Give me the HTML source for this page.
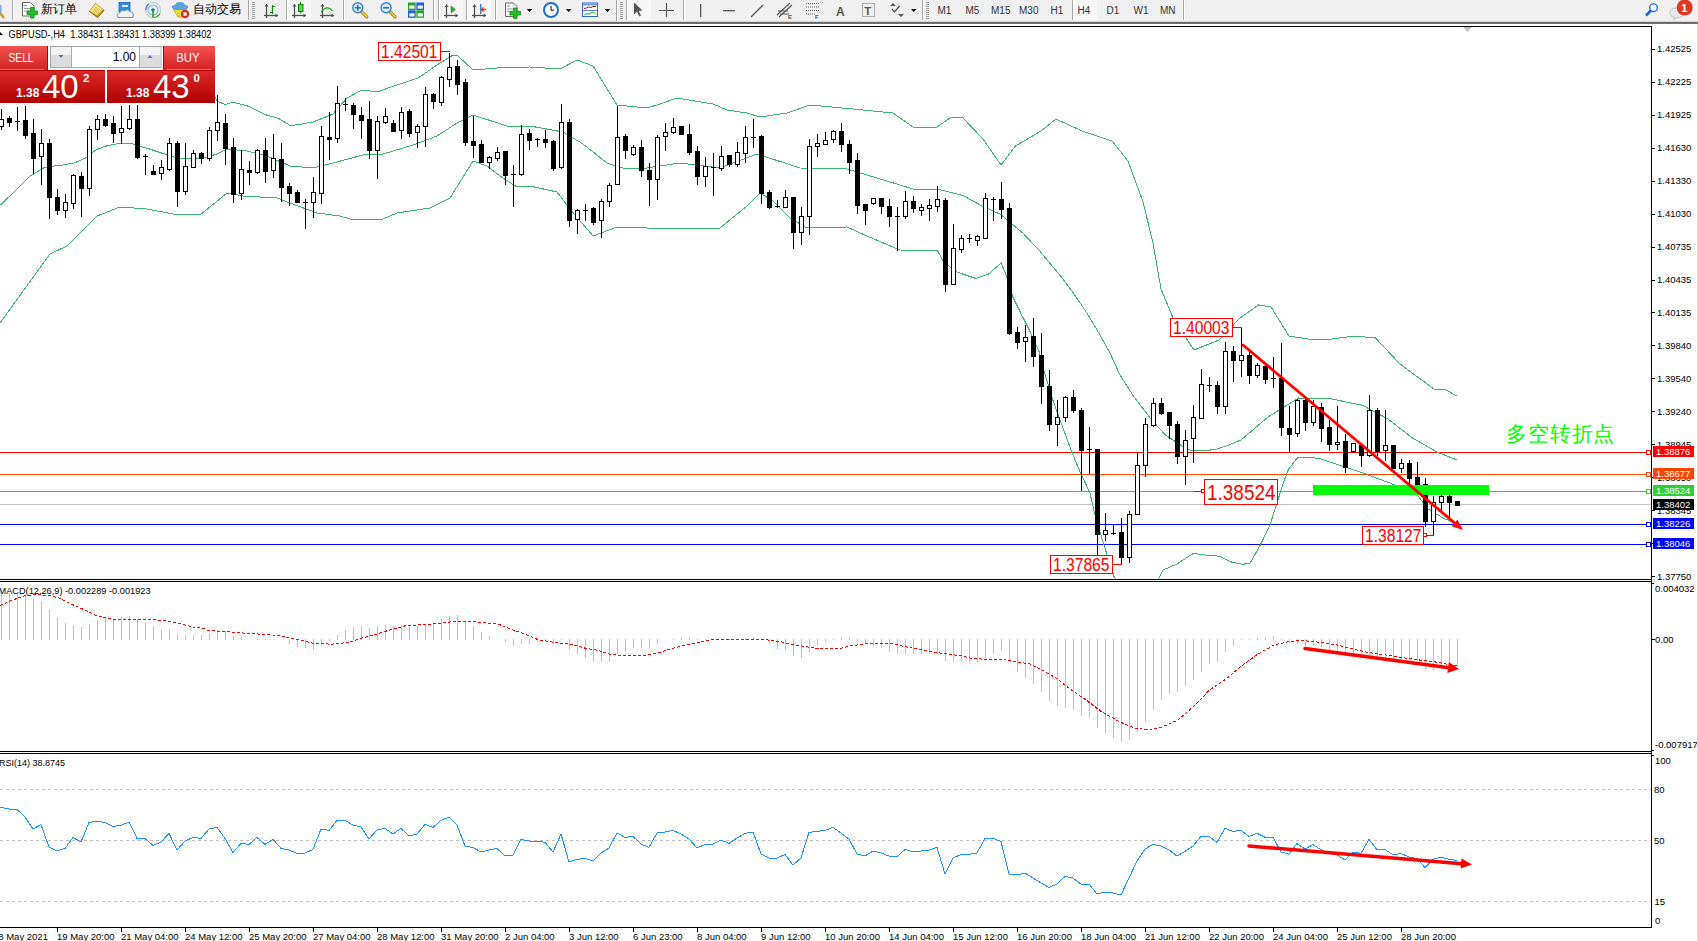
<!DOCTYPE html><html><head><meta charset="utf-8"><title>GBPUSD H4</title><style>
html,body{margin:0;padding:0;width:1698px;height:941px;overflow:hidden;background:#fff;}
svg{position:absolute;left:0;top:0;font-family:"Liberation Sans",sans-serif;}
</style></head><body>
<svg width="1698" height="941" viewBox="0 0 1698 941">
<defs>
<clipPath id="cmain"><rect x="0" y="27" width="1651" height="552"/></clipPath>
<clipPath id="cmacd"><rect x="0" y="582" width="1651" height="169"/></clipPath>
<clipPath id="crsi"><rect x="0" y="754" width="1651" height="173"/></clipPath>
<linearGradient id="gred" x1="0" y1="0" x2="0" y2="1"><stop offset="0" stop-color="#f25252"/><stop offset="1" stop-color="#d42222"/></linearGradient>
<linearGradient id="gred2" x1="0" y1="0" x2="0" y2="1"><stop offset="0" stop-color="#dc2a2a"/><stop offset="1" stop-color="#b00000"/></linearGradient>
<linearGradient id="gbtn" x1="0" y1="0" x2="0" y2="1"><stop offset="0" stop-color="#f4f4f4"/><stop offset="1" stop-color="#d8d8d8"/></linearGradient>
<linearGradient id="gtb" x1="0" y1="0" x2="0" y2="1"><stop offset="0" stop-color="#d0d0d0"/><stop offset="1" stop-color="#6a6a6a"/></linearGradient>
</defs>
<rect x="0" y="0" width="1698" height="941" fill="#fff"/>
<g clip-path="url(#cmain)" shape-rendering="crispEdges"><rect x="0" y="452" width="1651" height="1" fill="#ff0000"/><rect x="0" y="474" width="1651" height="1" fill="#ff4500"/><rect x="0" y="491" width="1651" height="1" fill="#32cd32"/><rect x="0" y="504" width="1651" height="1" fill="#c0c0c0"/><rect x="0" y="524" width="1651" height="1" fill="#0000ff"/><rect x="0" y="544" width="1651" height="1" fill="#0000ff"/></g>
<g clip-path="url(#cmain)">
<polyline points="0,60 100,60 195,62 217,101 225,104.6 233,102.2 249,106.4 265,114.6 278.5,118.3 290.4,125.7 300.8,124.2 313,122 333,114 347,98 362,90 377,92 397,85 418,78 437,65 453,55 458,56 473,70 497,68 530,67 560,69 577,60 593,66 617,105 647,108 660,104 677,98 713,104 727,110 747,113 760,117 787,113 810,105 853,109 893,113 913,127 937,127 950,118 962,117 983,139 1001,165 1015.5,146 1041,131 1056,119 1082,131 1112,141 1128,161 1143,202 1153,243 1161,289 1173.5,319 1194,350 1219,340 1240,318 1258.5,305 1271,307 1289,336 1308,339 1332,339 1354,336 1375.5,338 1400,364 1419,378 1434,389 1446,390 1457,396" fill="none" stroke="#3cb371" stroke-width="1" shape-rendering="crispEdges" />
<polyline points="0,205.3 14.9,191.2 29.8,176.3 44.6,167.4 52,166.2 62.5,165.1 74.4,162.9 86.3,157.7 95.2,150.3 104.2,146.5 119,143.3 131,143.3 139.9,146.3 148.8,148.8 160,152.5 177,158 200,159 217,154 227,149 247,151 267,156 290,166 313,168 333,163 363,155 383,154 413,145 437,136 457,123 473,115 507,126 530,126 563,132 583,144 607,163 623,168 647,168 660,166 680,163 720,168 757,154 800,168 847,169 887,181 913,189 937,189 963,195.5 982,206 1001,214.6 1012,224 1022.5,232.7 1039.5,250.7 1060.7,276.2 1072,291 1088,314.7 1100,335 1110,353 1120,375 1134,397 1151,419 1165,434.6 1182,446 1190,450 1204,451 1217,449 1229,445 1241,440 1268,417 1298.5,398 1332,399 1363,405.5 1388,419 1412.5,438 1437,452 1457,460" fill="none" stroke="#3cb371" stroke-width="1" shape-rendering="crispEdges" />
<polyline points="0,323 50,254 67,246 97,216 120,207 147,209 173,214 200,215 227,193 243,196 277,198 290,203 317,213 340,216 350,219 383,219 397,213 430,208 450,198 473,161 487,166 503,178 517,187 530,186 557,192 570,209 593,236 617,227 647,228 670,228 720,228 747,206 760,193 773,201 790,218 807,228 847,227 867,236 900,250 937.5,250.7 943.9,262.4 956.6,272 975.7,278.4 988.5,274.1 1001.2,263 1006.6,276.2 1013,297.5 1022.5,316.6 1031,333.6 1039.5,352.7 1043.7,370 1052.4,398.8 1059.2,417.6 1071,450 1081,474 1090,493 1095,515 1103,542 1114,576.5 1130,600 1158,580 1163,570 1177,564 1180,562 1193.4,553.4 1206.8,555.3 1218.7,556.1 1232.1,562.3 1242.5,564.3 1250,563.2 1260.4,544.9 1270,524.8 1276.7,504 1282.7,484.6 1288.6,469 1297.6,457.6 1314,457.9 1320,458.6 1342,466 1363,473 1391,483.5 1416,493 1428,509 1443,518 1457,524" fill="none" stroke="#3cb371" stroke-width="1" shape-rendering="crispEdges" />
</g>
<g clip-path="url(#cmain)" shape-rendering="crispEdges"><rect x="1" y="109" width="1" height="21" fill="#000"/><rect x="-1" y="119" width="5" height="8" fill="#000"/><rect x="0" y="120" width="3" height="6" fill="#fff"/><rect x="9" y="116" width="1" height="11" fill="#000"/><rect x="7" y="118" width="5" height="5" fill="#000"/><rect x="17" y="107" width="1" height="24" fill="#000"/><rect x="15" y="121" width="5" height="1" fill="#000"/><rect x="25" y="106" width="1" height="33" fill="#000"/><rect x="23" y="120" width="5" height="16" fill="#000"/><rect x="33" y="119" width="1" height="55" fill="#000"/><rect x="31" y="133" width="5" height="26" fill="#000"/><rect x="41" y="129" width="1" height="56" fill="#000"/><rect x="39" y="143" width="5" height="14" fill="#000"/><rect x="40" y="144" width="3" height="12" fill="#fff"/><rect x="49" y="139" width="1" height="80" fill="#000"/><rect x="47" y="143" width="5" height="55" fill="#000"/><rect x="57" y="189" width="1" height="26" fill="#000"/><rect x="55" y="197" width="5" height="14" fill="#000"/><rect x="65" y="194" width="1" height="24" fill="#000"/><rect x="63" y="202" width="5" height="9" fill="#000"/><rect x="64" y="203" width="3" height="7" fill="#fff"/><rect x="73" y="174" width="1" height="35" fill="#000"/><rect x="71" y="175" width="5" height="29" fill="#000"/><rect x="72" y="176" width="3" height="27" fill="#fff"/><rect x="81" y="172" width="1" height="45" fill="#000"/><rect x="79" y="176" width="5" height="13" fill="#000"/><rect x="89" y="126" width="1" height="70" fill="#000"/><rect x="87" y="129" width="5" height="60" fill="#000"/><rect x="88" y="130" width="3" height="58" fill="#fff"/><rect x="97" y="115" width="1" height="25" fill="#000"/><rect x="95" y="119" width="5" height="11" fill="#000"/><rect x="96" y="120" width="3" height="9" fill="#fff"/><rect x="105" y="114" width="1" height="13" fill="#000"/><rect x="103" y="119" width="5" height="7" fill="#000"/><rect x="113" y="116" width="1" height="27" fill="#000"/><rect x="111" y="123" width="5" height="11" fill="#000"/><rect x="121" y="106" width="1" height="38" fill="#000"/><rect x="119" y="128" width="5" height="5" fill="#000"/><rect x="120" y="129" width="3" height="3" fill="#fff"/><rect x="129" y="105" width="1" height="25" fill="#000"/><rect x="127" y="119" width="5" height="10" fill="#000"/><rect x="128" y="120" width="3" height="8" fill="#fff"/><rect x="137" y="105" width="1" height="54" fill="#000"/><rect x="135" y="119" width="5" height="39" fill="#000"/><rect x="145" y="154" width="1" height="21" fill="#000"/><rect x="143" y="156" width="5" height="1" fill="#000"/><rect x="153" y="165" width="1" height="10" fill="#000"/><rect x="151" y="171" width="5" height="4" fill="#000"/><rect x="161" y="160" width="1" height="20" fill="#000"/><rect x="159" y="167" width="5" height="7" fill="#000"/><rect x="160" y="168" width="3" height="5" fill="#fff"/><rect x="169" y="138" width="1" height="33" fill="#000"/><rect x="167" y="143" width="5" height="27" fill="#000"/><rect x="168" y="144" width="3" height="25" fill="#fff"/><rect x="177" y="141" width="1" height="66" fill="#000"/><rect x="175" y="143" width="5" height="49" fill="#000"/><rect x="185" y="143" width="1" height="52" fill="#000"/><rect x="183" y="166" width="5" height="26" fill="#000"/><rect x="184" y="167" width="3" height="24" fill="#fff"/><rect x="193" y="150" width="1" height="18" fill="#000"/><rect x="191" y="153" width="5" height="15" fill="#000"/><rect x="192" y="154" width="3" height="13" fill="#fff"/><rect x="201" y="152" width="1" height="12" fill="#000"/><rect x="199" y="153" width="5" height="6" fill="#000"/><rect x="209" y="127" width="1" height="34" fill="#000"/><rect x="207" y="130" width="5" height="29" fill="#000"/><rect x="208" y="131" width="3" height="27" fill="#fff"/><rect x="217" y="95" width="1" height="46" fill="#000"/><rect x="215" y="122" width="5" height="9" fill="#000"/><rect x="216" y="123" width="3" height="7" fill="#fff"/><rect x="225" y="114" width="1" height="51" fill="#000"/><rect x="223" y="123" width="5" height="26" fill="#000"/><rect x="233" y="138" width="1" height="65" fill="#000"/><rect x="231" y="147" width="5" height="48" fill="#000"/><rect x="241" y="150" width="1" height="50" fill="#000"/><rect x="239" y="169" width="5" height="25" fill="#000"/><rect x="240" y="170" width="3" height="23" fill="#fff"/><rect x="249" y="161" width="1" height="24" fill="#000"/><rect x="247" y="170" width="5" height="3" fill="#000"/><rect x="257" y="149" width="1" height="25" fill="#000"/><rect x="255" y="150" width="5" height="23" fill="#000"/><rect x="256" y="151" width="3" height="21" fill="#fff"/><rect x="265" y="138" width="1" height="45" fill="#000"/><rect x="263" y="150" width="5" height="22" fill="#000"/><rect x="273" y="134" width="1" height="44" fill="#000"/><rect x="271" y="158" width="5" height="13" fill="#000"/><rect x="272" y="159" width="3" height="11" fill="#fff"/><rect x="281" y="143" width="1" height="59" fill="#000"/><rect x="279" y="159" width="5" height="29" fill="#000"/><rect x="289" y="183" width="1" height="23" fill="#000"/><rect x="287" y="186" width="5" height="8" fill="#000"/><rect x="297" y="190" width="1" height="13" fill="#000"/><rect x="295" y="192" width="5" height="11" fill="#000"/><rect x="305" y="199" width="1" height="30" fill="#000"/><rect x="303" y="202" width="5" height="1" fill="#000"/><rect x="313" y="177" width="1" height="41" fill="#000"/><rect x="311" y="192" width="5" height="11" fill="#000"/><rect x="312" y="193" width="3" height="9" fill="#fff"/><rect x="321" y="126" width="1" height="78" fill="#000"/><rect x="319" y="136" width="5" height="58" fill="#000"/><rect x="320" y="137" width="3" height="56" fill="#fff"/><rect x="329" y="112" width="1" height="48" fill="#000"/><rect x="327" y="137" width="5" height="3" fill="#000"/><rect x="337" y="86" width="1" height="57" fill="#000"/><rect x="335" y="103" width="5" height="36" fill="#000"/><rect x="336" y="104" width="3" height="34" fill="#fff"/><rect x="345" y="98" width="1" height="13" fill="#000"/><rect x="343" y="104" width="5" height="1" fill="#000"/><rect x="353" y="103" width="1" height="26" fill="#000"/><rect x="351" y="105" width="5" height="10" fill="#000"/><rect x="361" y="107" width="1" height="32" fill="#000"/><rect x="359" y="115" width="5" height="6" fill="#000"/><rect x="369" y="101" width="1" height="58" fill="#000"/><rect x="367" y="119" width="5" height="32" fill="#000"/><rect x="377" y="116" width="1" height="63" fill="#000"/><rect x="375" y="121" width="5" height="30" fill="#000"/><rect x="376" y="122" width="3" height="28" fill="#fff"/><rect x="385" y="108" width="1" height="16" fill="#000"/><rect x="383" y="116" width="5" height="7" fill="#000"/><rect x="384" y="117" width="3" height="5" fill="#fff"/><rect x="393" y="120" width="1" height="12" fill="#000"/><rect x="391" y="123" width="5" height="9" fill="#000"/><rect x="401" y="107" width="1" height="32" fill="#000"/><rect x="399" y="112" width="5" height="19" fill="#000"/><rect x="400" y="113" width="3" height="17" fill="#fff"/><rect x="409" y="109" width="1" height="28" fill="#000"/><rect x="407" y="111" width="5" height="23" fill="#000"/><rect x="417" y="124" width="1" height="24" fill="#000"/><rect x="415" y="126" width="5" height="7" fill="#000"/><rect x="416" y="127" width="3" height="5" fill="#fff"/><rect x="425" y="87" width="1" height="60" fill="#000"/><rect x="423" y="94" width="5" height="33" fill="#000"/><rect x="424" y="95" width="3" height="31" fill="#fff"/><rect x="433" y="93" width="1" height="16" fill="#000"/><rect x="431" y="94" width="5" height="8" fill="#000"/><rect x="441" y="76" width="1" height="30" fill="#000"/><rect x="439" y="77" width="5" height="26" fill="#000"/><rect x="440" y="78" width="3" height="24" fill="#fff"/><rect x="449" y="53" width="1" height="34" fill="#000"/><rect x="447" y="67" width="5" height="13" fill="#000"/><rect x="448" y="68" width="3" height="11" fill="#fff"/><rect x="457" y="60" width="1" height="35" fill="#000"/><rect x="455" y="66" width="5" height="19" fill="#000"/><rect x="465" y="79" width="1" height="67" fill="#000"/><rect x="463" y="82" width="5" height="61" fill="#000"/><rect x="473" y="116" width="1" height="42" fill="#000"/><rect x="471" y="141" width="5" height="5" fill="#000"/><rect x="481" y="140" width="1" height="23" fill="#000"/><rect x="479" y="144" width="5" height="19" fill="#000"/><rect x="489" y="156" width="1" height="13" fill="#000"/><rect x="487" y="157" width="5" height="6" fill="#000"/><rect x="488" y="158" width="3" height="4" fill="#fff"/><rect x="497" y="147" width="1" height="14" fill="#000"/><rect x="495" y="152" width="5" height="7" fill="#000"/><rect x="496" y="153" width="3" height="5" fill="#fff"/><rect x="505" y="151" width="1" height="34" fill="#000"/><rect x="503" y="151" width="5" height="25" fill="#000"/><rect x="513" y="165" width="1" height="42" fill="#000"/><rect x="511" y="174" width="5" height="1" fill="#000"/><rect x="521" y="125" width="1" height="51" fill="#000"/><rect x="519" y="134" width="5" height="41" fill="#000"/><rect x="520" y="135" width="3" height="39" fill="#fff"/><rect x="529" y="129" width="1" height="21" fill="#000"/><rect x="527" y="133" width="5" height="8" fill="#000"/><rect x="537" y="138" width="1" height="9" fill="#000"/><rect x="535" y="139" width="5" height="1" fill="#000"/><rect x="545" y="130" width="1" height="18" fill="#000"/><rect x="543" y="139" width="5" height="4" fill="#000"/><rect x="553" y="140" width="1" height="31" fill="#000"/><rect x="551" y="141" width="5" height="28" fill="#000"/><rect x="561" y="104" width="1" height="65" fill="#000"/><rect x="559" y="122" width="5" height="46" fill="#000"/><rect x="560" y="123" width="3" height="44" fill="#fff"/><rect x="569" y="119" width="1" height="108" fill="#000"/><rect x="567" y="122" width="5" height="99" fill="#000"/><rect x="577" y="209" width="1" height="25" fill="#000"/><rect x="575" y="210" width="5" height="10" fill="#000"/><rect x="576" y="211" width="3" height="8" fill="#fff"/><rect x="585" y="204" width="1" height="17" fill="#000"/><rect x="583" y="210" width="5" height="1" fill="#000"/><rect x="593" y="207" width="1" height="18" fill="#000"/><rect x="591" y="208" width="5" height="15" fill="#000"/><rect x="601" y="199" width="1" height="39" fill="#000"/><rect x="599" y="201" width="5" height="20" fill="#000"/><rect x="600" y="202" width="3" height="18" fill="#fff"/><rect x="609" y="183" width="1" height="24" fill="#000"/><rect x="607" y="185" width="5" height="17" fill="#000"/><rect x="608" y="186" width="3" height="15" fill="#fff"/><rect x="617" y="106" width="1" height="79" fill="#000"/><rect x="615" y="137" width="5" height="48" fill="#000"/><rect x="616" y="138" width="3" height="46" fill="#fff"/><rect x="625" y="134" width="1" height="25" fill="#000"/><rect x="623" y="136" width="5" height="15" fill="#000"/><rect x="633" y="145" width="1" height="11" fill="#000"/><rect x="631" y="147" width="5" height="8" fill="#000"/><rect x="632" y="148" width="3" height="6" fill="#fff"/><rect x="641" y="140" width="1" height="37" fill="#000"/><rect x="639" y="147" width="5" height="24" fill="#000"/><rect x="649" y="163" width="1" height="43" fill="#000"/><rect x="647" y="170" width="5" height="10" fill="#000"/><rect x="657" y="135" width="1" height="65" fill="#000"/><rect x="655" y="137" width="5" height="43" fill="#000"/><rect x="656" y="138" width="3" height="41" fill="#fff"/><rect x="665" y="123" width="1" height="28" fill="#000"/><rect x="663" y="132" width="5" height="5" fill="#000"/><rect x="664" y="133" width="3" height="3" fill="#fff"/><rect x="673" y="118" width="1" height="16" fill="#000"/><rect x="671" y="127" width="5" height="6" fill="#000"/><rect x="672" y="128" width="3" height="4" fill="#fff"/><rect x="681" y="126" width="1" height="9" fill="#000"/><rect x="679" y="126" width="5" height="9" fill="#000"/><rect x="689" y="124" width="1" height="31" fill="#000"/><rect x="687" y="134" width="5" height="19" fill="#000"/><rect x="697" y="146" width="1" height="39" fill="#000"/><rect x="695" y="151" width="5" height="26" fill="#000"/><rect x="705" y="157" width="1" height="30" fill="#000"/><rect x="703" y="166" width="5" height="11" fill="#000"/><rect x="704" y="167" width="3" height="9" fill="#fff"/><rect x="713" y="153" width="1" height="43" fill="#000"/><rect x="711" y="167" width="5" height="1" fill="#000"/><rect x="721" y="146" width="1" height="25" fill="#000"/><rect x="719" y="156" width="5" height="13" fill="#000"/><rect x="720" y="157" width="3" height="11" fill="#fff"/><rect x="729" y="155" width="1" height="12" fill="#000"/><rect x="727" y="155" width="5" height="10" fill="#000"/><rect x="737" y="142" width="1" height="25" fill="#000"/><rect x="735" y="152" width="5" height="13" fill="#000"/><rect x="736" y="153" width="3" height="11" fill="#fff"/><rect x="745" y="126" width="1" height="37" fill="#000"/><rect x="743" y="137" width="5" height="17" fill="#000"/><rect x="744" y="138" width="3" height="15" fill="#fff"/><rect x="753" y="119" width="1" height="29" fill="#000"/><rect x="751" y="137" width="5" height="1" fill="#000"/><rect x="761" y="135" width="1" height="69" fill="#000"/><rect x="759" y="136" width="5" height="58" fill="#000"/><rect x="769" y="190" width="1" height="19" fill="#000"/><rect x="767" y="192" width="5" height="16" fill="#000"/><rect x="777" y="200" width="1" height="8" fill="#000"/><rect x="775" y="206" width="5" height="1" fill="#000"/><rect x="785" y="190" width="1" height="18" fill="#000"/><rect x="783" y="197" width="5" height="11" fill="#000"/><rect x="784" y="198" width="3" height="9" fill="#fff"/><rect x="793" y="197" width="1" height="52" fill="#000"/><rect x="791" y="197" width="5" height="36" fill="#000"/><rect x="801" y="207" width="1" height="38" fill="#000"/><rect x="799" y="216" width="5" height="17" fill="#000"/><rect x="800" y="217" width="3" height="15" fill="#fff"/><rect x="809" y="139" width="1" height="96" fill="#000"/><rect x="807" y="146" width="5" height="71" fill="#000"/><rect x="808" y="147" width="3" height="69" fill="#fff"/><rect x="817" y="134" width="1" height="23" fill="#000"/><rect x="815" y="143" width="5" height="4" fill="#000"/><rect x="816" y="144" width="3" height="2" fill="#fff"/><rect x="825" y="132" width="1" height="13" fill="#000"/><rect x="823" y="140" width="5" height="5" fill="#000"/><rect x="824" y="141" width="3" height="3" fill="#fff"/><rect x="833" y="130" width="1" height="13" fill="#000"/><rect x="831" y="131" width="5" height="9" fill="#000"/><rect x="832" y="132" width="3" height="7" fill="#fff"/><rect x="841" y="123" width="1" height="29" fill="#000"/><rect x="839" y="131" width="5" height="14" fill="#000"/><rect x="849" y="140" width="1" height="34" fill="#000"/><rect x="847" y="144" width="5" height="19" fill="#000"/><rect x="857" y="153" width="1" height="61" fill="#000"/><rect x="855" y="160" width="5" height="46" fill="#000"/><rect x="865" y="204" width="1" height="21" fill="#000"/><rect x="863" y="204" width="5" height="7" fill="#000"/><rect x="873" y="198" width="1" height="7" fill="#000"/><rect x="871" y="198" width="5" height="6" fill="#000"/><rect x="872" y="199" width="3" height="4" fill="#fff"/><rect x="881" y="198" width="1" height="16" fill="#000"/><rect x="879" y="198" width="5" height="9" fill="#000"/><rect x="889" y="199" width="1" height="28" fill="#000"/><rect x="887" y="206" width="5" height="11" fill="#000"/><rect x="897" y="207" width="1" height="44" fill="#000"/><rect x="895" y="216" width="5" height="1" fill="#000"/><rect x="905" y="191" width="1" height="28" fill="#000"/><rect x="903" y="201" width="5" height="16" fill="#000"/><rect x="904" y="202" width="3" height="14" fill="#fff"/><rect x="913" y="196" width="1" height="17" fill="#000"/><rect x="911" y="201" width="5" height="8" fill="#000"/><rect x="921" y="204" width="1" height="12" fill="#000"/><rect x="919" y="207" width="5" height="4" fill="#000"/><rect x="920" y="208" width="3" height="2" fill="#fff"/><rect x="929" y="199" width="1" height="22" fill="#000"/><rect x="927" y="205" width="5" height="4" fill="#000"/><rect x="928" y="206" width="3" height="2" fill="#fff"/><rect x="937" y="186" width="1" height="26" fill="#000"/><rect x="935" y="199" width="5" height="8" fill="#000"/><rect x="936" y="200" width="3" height="6" fill="#fff"/><rect x="945" y="198" width="1" height="94" fill="#000"/><rect x="943" y="200" width="5" height="85" fill="#000"/><rect x="953" y="224" width="1" height="61" fill="#000"/><rect x="951" y="248" width="5" height="37" fill="#000"/><rect x="952" y="249" width="3" height="35" fill="#fff"/><rect x="961" y="235" width="1" height="18" fill="#000"/><rect x="959" y="238" width="5" height="12" fill="#000"/><rect x="960" y="239" width="3" height="10" fill="#fff"/><rect x="969" y="234" width="1" height="9" fill="#000"/><rect x="967" y="238" width="5" height="1" fill="#000"/><rect x="977" y="235" width="1" height="11" fill="#000"/><rect x="975" y="236" width="5" height="5" fill="#000"/><rect x="976" y="237" width="3" height="3" fill="#fff"/><rect x="985" y="193" width="1" height="46" fill="#000"/><rect x="983" y="198" width="5" height="41" fill="#000"/><rect x="984" y="199" width="3" height="39" fill="#fff"/><rect x="993" y="197" width="1" height="24" fill="#000"/><rect x="991" y="199" width="5" height="1" fill="#000"/><rect x="1001" y="182" width="1" height="37" fill="#000"/><rect x="999" y="199" width="5" height="11" fill="#000"/><rect x="1009" y="203" width="1" height="132" fill="#000"/><rect x="1007" y="208" width="5" height="126" fill="#000"/><rect x="1017" y="327" width="1" height="22" fill="#000"/><rect x="1015" y="332" width="5" height="11" fill="#000"/><rect x="1025" y="325" width="1" height="37" fill="#000"/><rect x="1023" y="337" width="5" height="5" fill="#000"/><rect x="1024" y="338" width="3" height="3" fill="#fff"/><rect x="1033" y="318" width="1" height="49" fill="#000"/><rect x="1031" y="336" width="5" height="21" fill="#000"/><rect x="1041" y="333" width="1" height="71" fill="#000"/><rect x="1039" y="355" width="5" height="32" fill="#000"/><rect x="1049" y="370" width="1" height="61" fill="#000"/><rect x="1047" y="386" width="5" height="39" fill="#000"/><rect x="1057" y="400" width="1" height="46" fill="#000"/><rect x="1055" y="417" width="5" height="8" fill="#000"/><rect x="1056" y="418" width="3" height="6" fill="#fff"/><rect x="1065" y="396" width="1" height="26" fill="#000"/><rect x="1063" y="397" width="5" height="21" fill="#000"/><rect x="1064" y="398" width="3" height="19" fill="#fff"/><rect x="1073" y="390" width="1" height="23" fill="#000"/><rect x="1071" y="397" width="5" height="14" fill="#000"/><rect x="1081" y="408" width="1" height="83" fill="#000"/><rect x="1079" y="410" width="5" height="41" fill="#000"/><rect x="1089" y="427" width="1" height="47" fill="#000"/><rect x="1087" y="449" width="5" height="1" fill="#000"/><rect x="1097" y="449" width="1" height="108" fill="#000"/><rect x="1095" y="449" width="5" height="86" fill="#000"/><rect x="1105" y="513" width="1" height="28" fill="#000"/><rect x="1103" y="530" width="5" height="5" fill="#000"/><rect x="1104" y="531" width="3" height="3" fill="#fff"/><rect x="1113" y="524" width="1" height="11" fill="#000"/><rect x="1111" y="533" width="5" height="1" fill="#000"/><rect x="1121" y="518" width="1" height="47" fill="#000"/><rect x="1119" y="532" width="5" height="26" fill="#000"/><rect x="1129" y="511" width="1" height="52" fill="#000"/><rect x="1127" y="514" width="5" height="44" fill="#000"/><rect x="1128" y="515" width="3" height="42" fill="#fff"/><rect x="1137" y="452" width="1" height="63" fill="#000"/><rect x="1135" y="465" width="5" height="50" fill="#000"/><rect x="1136" y="466" width="3" height="48" fill="#fff"/><rect x="1145" y="418" width="1" height="59" fill="#000"/><rect x="1143" y="424" width="5" height="42" fill="#000"/><rect x="1144" y="425" width="3" height="40" fill="#fff"/><rect x="1153" y="398" width="1" height="29" fill="#000"/><rect x="1151" y="403" width="5" height="23" fill="#000"/><rect x="1152" y="404" width="3" height="21" fill="#fff"/><rect x="1161" y="398" width="1" height="17" fill="#000"/><rect x="1159" y="403" width="5" height="11" fill="#000"/><rect x="1169" y="412" width="1" height="27" fill="#000"/><rect x="1167" y="412" width="5" height="14" fill="#000"/><rect x="1177" y="421" width="1" height="43" fill="#000"/><rect x="1175" y="424" width="5" height="33" fill="#000"/><rect x="1185" y="430" width="1" height="55" fill="#000"/><rect x="1183" y="440" width="5" height="17" fill="#000"/><rect x="1184" y="441" width="3" height="15" fill="#fff"/><rect x="1193" y="405" width="1" height="58" fill="#000"/><rect x="1191" y="417" width="5" height="22" fill="#000"/><rect x="1192" y="418" width="3" height="20" fill="#fff"/><rect x="1201" y="369" width="1" height="50" fill="#000"/><rect x="1199" y="384" width="5" height="35" fill="#000"/><rect x="1200" y="385" width="3" height="33" fill="#fff"/><rect x="1209" y="377" width="1" height="15" fill="#000"/><rect x="1207" y="385" width="5" height="1" fill="#000"/><rect x="1217" y="381" width="1" height="33" fill="#000"/><rect x="1215" y="385" width="5" height="22" fill="#000"/><rect x="1225" y="342" width="1" height="72" fill="#000"/><rect x="1223" y="351" width="5" height="56" fill="#000"/><rect x="1224" y="352" width="3" height="54" fill="#fff"/><rect x="1233" y="346" width="1" height="36" fill="#000"/><rect x="1231" y="351" width="5" height="10" fill="#000"/><rect x="1241" y="327" width="1" height="50" fill="#000"/><rect x="1239" y="355" width="5" height="6" fill="#000"/><rect x="1240" y="356" width="3" height="4" fill="#fff"/><rect x="1249" y="352" width="1" height="32" fill="#000"/><rect x="1247" y="355" width="5" height="21" fill="#000"/><rect x="1257" y="363" width="1" height="15" fill="#000"/><rect x="1255" y="365" width="5" height="11" fill="#000"/><rect x="1256" y="366" width="3" height="9" fill="#fff"/><rect x="1265" y="365" width="1" height="19" fill="#000"/><rect x="1263" y="366" width="5" height="14" fill="#000"/><rect x="1273" y="357" width="1" height="31" fill="#000"/><rect x="1271" y="378" width="5" height="1" fill="#000"/><rect x="1281" y="343" width="1" height="93" fill="#000"/><rect x="1279" y="378" width="5" height="50" fill="#000"/><rect x="1289" y="406" width="1" height="46" fill="#000"/><rect x="1287" y="428" width="5" height="7" fill="#000"/><rect x="1297" y="399" width="1" height="38" fill="#000"/><rect x="1295" y="400" width="5" height="34" fill="#000"/><rect x="1296" y="401" width="3" height="32" fill="#fff"/><rect x="1305" y="399" width="1" height="32" fill="#000"/><rect x="1303" y="400" width="5" height="23" fill="#000"/><rect x="1313" y="400" width="1" height="26" fill="#000"/><rect x="1311" y="406" width="5" height="17" fill="#000"/><rect x="1312" y="407" width="3" height="15" fill="#fff"/><rect x="1321" y="403" width="1" height="39" fill="#000"/><rect x="1319" y="407" width="5" height="22" fill="#000"/><rect x="1329" y="420" width="1" height="31" fill="#000"/><rect x="1327" y="427" width="5" height="18" fill="#000"/><rect x="1337" y="406" width="1" height="44" fill="#000"/><rect x="1335" y="442" width="5" height="3" fill="#000"/><rect x="1336" y="443" width="3" height="1" fill="#fff"/><rect x="1345" y="434" width="1" height="39" fill="#000"/><rect x="1343" y="441" width="5" height="27" fill="#000"/><rect x="1353" y="443" width="1" height="10" fill="#000"/><rect x="1351" y="443" width="5" height="9" fill="#000"/><rect x="1352" y="444" width="3" height="7" fill="#fff"/><rect x="1361" y="444" width="1" height="23" fill="#000"/><rect x="1359" y="445" width="5" height="11" fill="#000"/><rect x="1369" y="395" width="1" height="62" fill="#000"/><rect x="1367" y="410" width="5" height="46" fill="#000"/><rect x="1368" y="411" width="3" height="44" fill="#fff"/><rect x="1377" y="408" width="1" height="48" fill="#000"/><rect x="1375" y="410" width="5" height="42" fill="#000"/><rect x="1385" y="410" width="1" height="51" fill="#000"/><rect x="1383" y="445" width="5" height="6" fill="#000"/><rect x="1384" y="446" width="3" height="4" fill="#fff"/><rect x="1393" y="445" width="1" height="24" fill="#000"/><rect x="1391" y="445" width="5" height="24" fill="#000"/><rect x="1401" y="459" width="1" height="14" fill="#000"/><rect x="1399" y="463" width="5" height="6" fill="#000"/><rect x="1400" y="464" width="3" height="4" fill="#fff"/><rect x="1409" y="460" width="1" height="25" fill="#000"/><rect x="1407" y="463" width="5" height="16" fill="#000"/><rect x="1417" y="462" width="1" height="24" fill="#000"/><rect x="1415" y="477" width="5" height="9" fill="#000"/><rect x="1425" y="478" width="1" height="49" fill="#000"/><rect x="1423" y="484" width="5" height="38" fill="#000"/><rect x="1433" y="496" width="1" height="40" fill="#000"/><rect x="1431" y="502" width="5" height="20" fill="#000"/><rect x="1432" y="503" width="3" height="18" fill="#fff"/><rect x="1441" y="489" width="1" height="21" fill="#000"/><rect x="1439" y="496" width="5" height="7" fill="#000"/><rect x="1440" y="497" width="3" height="5" fill="#fff"/><rect x="1449" y="492" width="1" height="25" fill="#000"/><rect x="1447" y="496" width="5" height="7" fill="#000"/><rect x="1457" y="501" width="1" height="5" fill="#000"/><rect x="1455" y="501" width="5" height="5" fill="#000"/></g>
<rect x="1313" y="485" width="176" height="10" fill="#00ff00" shape-rendering="crispEdges"/>
<g clip-path="url(#cmain)">
<line x1="1243" y1="345" x2="1455.3463791409451" y2="523.5640006412492" stroke="#ff0000" stroke-width="2.8" stroke-linecap="round"/><polygon points="1463,530 1451.6848173436017,526.3645300919488 1457.4772167664776,519.4762713187995" fill="#ff0000"/>
</g>
<rect x="1646.5" y="450.5" width="4" height="4" fill="#fff" stroke="#ff0000" stroke-width="1"/><rect x="1646.5" y="472.5" width="4" height="4" fill="#fff" stroke="#ff4500" stroke-width="1"/><rect x="1646.5" y="489.5" width="4" height="4" fill="#fff" stroke="#32cd32" stroke-width="1"/><rect x="1646.5" y="522.5" width="4" height="4" fill="#fff" stroke="#0000ff" stroke-width="1"/><rect x="1646.5" y="542.5" width="4" height="4" fill="#fff" stroke="#0000ff" stroke-width="1"/>
<g shape-rendering="crispEdges"><rect x="440" y="51" width="10" height="1" fill="#ff0000"/><rect x="378.5" y="42.5" width="62" height="18" fill="#fff" stroke="#ff0000" stroke-width="1" shape-rendering="crispEdges"/><text x="381" y="58" font-size="18" fill="#ff0000" textLength="56.5" lengthAdjust="spacingAndGlyphs">1.42501</text><rect x="1232" y="327" width="10" height="1" fill="#ff0000"/><rect x="1170.5" y="318.5" width="62" height="18" fill="#fff" stroke="#ff0000" stroke-width="1" shape-rendering="crispEdges"/><text x="1173" y="334" font-size="18" fill="#ff0000" textLength="56.5" lengthAdjust="spacingAndGlyphs">1.40003</text><rect x="1194" y="491" width="8" height="1" fill="#ff0000"/><rect x="1201.5" y="489.5" width="3" height="3" fill="#fff" stroke="#ff0000"/><rect x="1204.5" y="479.5" width="73" height="25" fill="#fff" stroke="#ff0000" stroke-width="1" shape-rendering="crispEdges"/><text x="1207" y="500" font-size="22.5" fill="#ff0000" textLength="68.5" lengthAdjust="spacingAndGlyphs">1.38524</text><rect x="1112" y="564" width="10" height="1" fill="#ff0000"/><rect x="1050.5" y="555.5" width="62" height="18" fill="#fff" stroke="#ff0000" stroke-width="1" shape-rendering="crispEdges"/><text x="1053" y="571" font-size="18" fill="#ff0000" textLength="56.5" lengthAdjust="spacingAndGlyphs">1.37865</text><rect x="1427" y="535" width="7" height="1" fill="#ff0000"/><rect x="1423.5" y="533.5" width="3" height="3" fill="#fff" stroke="#ff0000"/><rect x="1362.5" y="526.5" width="61" height="18" fill="#fff" stroke="#ff0000" stroke-width="1" shape-rendering="crispEdges"/><text x="1365" y="542" font-size="18" fill="#ff0000" textLength="56.5" lengthAdjust="spacingAndGlyphs">1.38127</text></g>
<text x="1506.3" y="441" font-size="21" fill="#00ff00" letter-spacing="0.8">多空转折点</text>
<g clip-path="url(#cmacd)" shape-rendering="crispEdges"><rect x="1" y="591" width="1" height="49" fill="#c0c0c0"/><rect x="9" y="593" width="1" height="47" fill="#c0c0c0"/><rect x="17" y="594" width="1" height="46" fill="#c0c0c0"/><rect x="25" y="596" width="1" height="44" fill="#c0c0c0"/><rect x="33" y="598" width="1" height="42" fill="#c0c0c0"/><rect x="41" y="601" width="1" height="39" fill="#c0c0c0"/><rect x="49" y="609" width="1" height="31" fill="#c0c0c0"/><rect x="57" y="617" width="1" height="23" fill="#c0c0c0"/><rect x="65" y="623" width="1" height="17" fill="#c0c0c0"/><rect x="73" y="625" width="1" height="15" fill="#c0c0c0"/><rect x="81" y="627" width="1" height="13" fill="#c0c0c0"/><rect x="89" y="624" width="1" height="16" fill="#c0c0c0"/><rect x="97" y="620" width="1" height="20" fill="#c0c0c0"/><rect x="105" y="618" width="1" height="22" fill="#c0c0c0"/><rect x="113" y="620" width="1" height="20" fill="#c0c0c0"/><rect x="121" y="617" width="1" height="23" fill="#c0c0c0"/><rect x="129" y="616" width="1" height="24" fill="#c0c0c0"/><rect x="137" y="619" width="1" height="21" fill="#c0c0c0"/><rect x="145" y="622" width="1" height="18" fill="#c0c0c0"/><rect x="153" y="626" width="1" height="14" fill="#c0c0c0"/><rect x="161" y="629" width="1" height="11" fill="#c0c0c0"/><rect x="169" y="629" width="1" height="11" fill="#c0c0c0"/><rect x="177" y="634" width="1" height="6" fill="#c0c0c0"/><rect x="185" y="635" width="1" height="5" fill="#c0c0c0"/><rect x="193" y="635" width="1" height="5" fill="#c0c0c0"/><rect x="201" y="635" width="1" height="5" fill="#c0c0c0"/><rect x="209" y="633" width="1" height="7" fill="#c0c0c0"/><rect x="217" y="630" width="1" height="10" fill="#c0c0c0"/><rect x="225" y="631" width="1" height="9" fill="#c0c0c0"/><rect x="233" y="636" width="1" height="4" fill="#c0c0c0"/><rect x="241" y="637" width="1" height="3" fill="#c0c0c0"/><rect x="257" y="638" width="1" height="2" fill="#c0c0c0"/><rect x="265" y="639" width="1" height="1" fill="#c0c0c0"/><rect x="273" y="639" width="1" height="1" fill="#c0c0c0"/><rect x="289" y="639" width="1" height="5" fill="#c0c0c0"/><rect x="297" y="639" width="1" height="8" fill="#c0c0c0"/><rect x="305" y="639" width="1" height="9" fill="#c0c0c0"/><rect x="313" y="639" width="1" height="11" fill="#c0c0c0"/><rect x="321" y="639" width="1" height="5" fill="#c0c0c0"/><rect x="329" y="639" width="1" height="2" fill="#c0c0c0"/><rect x="337" y="635" width="1" height="5" fill="#c0c0c0"/><rect x="345" y="630" width="1" height="10" fill="#c0c0c0"/><rect x="353" y="627" width="1" height="13" fill="#c0c0c0"/><rect x="361" y="626" width="1" height="14" fill="#c0c0c0"/><rect x="369" y="628" width="1" height="12" fill="#c0c0c0"/><rect x="377" y="626" width="1" height="14" fill="#c0c0c0"/><rect x="385" y="625" width="1" height="15" fill="#c0c0c0"/><rect x="393" y="626" width="1" height="14" fill="#c0c0c0"/><rect x="401" y="625" width="1" height="15" fill="#c0c0c0"/><rect x="409" y="626" width="1" height="14" fill="#c0c0c0"/><rect x="417" y="626" width="1" height="14" fill="#c0c0c0"/><rect x="425" y="625" width="1" height="15" fill="#c0c0c0"/><rect x="433" y="623" width="1" height="17" fill="#c0c0c0"/><rect x="441" y="619" width="1" height="21" fill="#c0c0c0"/><rect x="449" y="616" width="1" height="24" fill="#c0c0c0"/><rect x="457" y="615" width="1" height="25" fill="#c0c0c0"/><rect x="465" y="621" width="1" height="19" fill="#c0c0c0"/><rect x="473" y="626" width="1" height="14" fill="#c0c0c0"/><rect x="481" y="632" width="1" height="8" fill="#c0c0c0"/><rect x="489" y="636" width="1" height="4" fill="#c0c0c0"/><rect x="505" y="639" width="1" height="3" fill="#c0c0c0"/><rect x="513" y="639" width="1" height="7" fill="#c0c0c0"/><rect x="521" y="639" width="1" height="5" fill="#c0c0c0"/><rect x="529" y="639" width="1" height="5" fill="#c0c0c0"/><rect x="537" y="639" width="1" height="3" fill="#c0c0c0"/><rect x="545" y="639" width="1" height="1" fill="#c0c0c0"/><rect x="553" y="639" width="1" height="5" fill="#c0c0c0"/><rect x="561" y="639" width="1" height="1" fill="#c0c0c0"/><rect x="569" y="639" width="1" height="11" fill="#c0c0c0"/><rect x="577" y="639" width="1" height="15" fill="#c0c0c0"/><rect x="585" y="639" width="1" height="19" fill="#c0c0c0"/><rect x="593" y="639" width="1" height="23" fill="#c0c0c0"/><rect x="601" y="639" width="1" height="23" fill="#c0c0c0"/><rect x="609" y="639" width="1" height="23" fill="#c0c0c0"/><rect x="617" y="639" width="1" height="15" fill="#c0c0c0"/><rect x="625" y="639" width="1" height="13" fill="#c0c0c0"/><rect x="633" y="639" width="1" height="9" fill="#c0c0c0"/><rect x="641" y="639" width="1" height="9" fill="#c0c0c0"/><rect x="649" y="639" width="1" height="9" fill="#c0c0c0"/><rect x="657" y="639" width="1" height="5" fill="#c0c0c0"/><rect x="673" y="639" width="1" height="1" fill="#c0c0c0"/><rect x="681" y="637" width="1" height="3" fill="#c0c0c0"/><rect x="689" y="637" width="1" height="3" fill="#c0c0c0"/><rect x="697" y="639" width="1" height="1" fill="#c0c0c0"/><rect x="705" y="639" width="1" height="1" fill="#c0c0c0"/><rect x="713" y="639" width="1" height="1" fill="#c0c0c0"/><rect x="721" y="639" width="1" height="1" fill="#c0c0c0"/><rect x="729" y="639" width="1" height="1" fill="#c0c0c0"/><rect x="737" y="639" width="1" height="1" fill="#c0c0c0"/><rect x="745" y="638" width="1" height="2" fill="#c0c0c0"/><rect x="753" y="637" width="1" height="3" fill="#c0c0c0"/><rect x="761" y="639" width="1" height="1" fill="#c0c0c0"/><rect x="769" y="639" width="1" height="5" fill="#c0c0c0"/><rect x="777" y="639" width="1" height="10" fill="#c0c0c0"/><rect x="785" y="639" width="1" height="11" fill="#c0c0c0"/><rect x="793" y="639" width="1" height="17" fill="#c0c0c0"/><rect x="801" y="639" width="1" height="19" fill="#c0c0c0"/><rect x="809" y="639" width="1" height="13" fill="#c0c0c0"/><rect x="817" y="639" width="1" height="7" fill="#c0c0c0"/><rect x="825" y="639" width="1" height="3" fill="#c0c0c0"/><rect x="833" y="639" width="1" height="1" fill="#c0c0c0"/><rect x="841" y="637" width="1" height="3" fill="#c0c0c0"/><rect x="849" y="637" width="1" height="3" fill="#c0c0c0"/><rect x="857" y="639" width="1" height="2" fill="#c0c0c0"/><rect x="865" y="639" width="1" height="5" fill="#c0c0c0"/><rect x="873" y="639" width="1" height="7" fill="#c0c0c0"/><rect x="881" y="639" width="1" height="9" fill="#c0c0c0"/><rect x="889" y="639" width="1" height="13" fill="#c0c0c0"/><rect x="897" y="639" width="1" height="15" fill="#c0c0c0"/><rect x="905" y="639" width="1" height="15" fill="#c0c0c0"/><rect x="913" y="639" width="1" height="15" fill="#c0c0c0"/><rect x="921" y="639" width="1" height="15" fill="#c0c0c0"/><rect x="929" y="639" width="1" height="15" fill="#c0c0c0"/><rect x="937" y="639" width="1" height="15" fill="#c0c0c0"/><rect x="945" y="639" width="1" height="22" fill="#c0c0c0"/><rect x="953" y="639" width="1" height="23" fill="#c0c0c0"/><rect x="961" y="639" width="1" height="23" fill="#c0c0c0"/><rect x="969" y="639" width="1" height="23" fill="#c0c0c0"/><rect x="977" y="639" width="1" height="23" fill="#c0c0c0"/><rect x="985" y="639" width="1" height="19" fill="#c0c0c0"/><rect x="993" y="639" width="1" height="15" fill="#c0c0c0"/><rect x="1001" y="639" width="1" height="12" fill="#c0c0c0"/><rect x="1009" y="639" width="1" height="23" fill="#c0c0c0"/><rect x="1017" y="639" width="1" height="33" fill="#c0c0c0"/><rect x="1025" y="639" width="1" height="39" fill="#c0c0c0"/><rect x="1033" y="639" width="1" height="45" fill="#c0c0c0"/><rect x="1041" y="639" width="1" height="53" fill="#c0c0c0"/><rect x="1049" y="639" width="1" height="62" fill="#c0c0c0"/><rect x="1057" y="639" width="1" height="67" fill="#c0c0c0"/><rect x="1065" y="639" width="1" height="69" fill="#c0c0c0"/><rect x="1073" y="639" width="1" height="71" fill="#c0c0c0"/><rect x="1081" y="639" width="1" height="77" fill="#c0c0c0"/><rect x="1089" y="639" width="1" height="79" fill="#c0c0c0"/><rect x="1097" y="639" width="1" height="89" fill="#c0c0c0"/><rect x="1105" y="639" width="1" height="95" fill="#c0c0c0"/><rect x="1113" y="639" width="1" height="99" fill="#c0c0c0"/><rect x="1121" y="639" width="1" height="103" fill="#c0c0c0"/><rect x="1129" y="639" width="1" height="101" fill="#c0c0c0"/><rect x="1137" y="639" width="1" height="93" fill="#c0c0c0"/><rect x="1145" y="639" width="1" height="83" fill="#c0c0c0"/><rect x="1153" y="639" width="1" height="71" fill="#c0c0c0"/><rect x="1161" y="639" width="1" height="61" fill="#c0c0c0"/><rect x="1169" y="639" width="1" height="55" fill="#c0c0c0"/><rect x="1177" y="639" width="1" height="53" fill="#c0c0c0"/><rect x="1185" y="639" width="1" height="47" fill="#c0c0c0"/><rect x="1193" y="639" width="1" height="41" fill="#c0c0c0"/><rect x="1201" y="639" width="1" height="33" fill="#c0c0c0"/><rect x="1209" y="639" width="1" height="25" fill="#c0c0c0"/><rect x="1217" y="639" width="1" height="23" fill="#c0c0c0"/><rect x="1225" y="639" width="1" height="13" fill="#c0c0c0"/><rect x="1233" y="639" width="1" height="7" fill="#c0c0c0"/><rect x="1241" y="639" width="1" height="1" fill="#c0c0c0"/><rect x="1249" y="639" width="1" height="1" fill="#c0c0c0"/><rect x="1257" y="638" width="1" height="2" fill="#c0c0c0"/><rect x="1265" y="637" width="1" height="3" fill="#c0c0c0"/><rect x="1273" y="636" width="1" height="4" fill="#c0c0c0"/><rect x="1281" y="639" width="1" height="1" fill="#c0c0c0"/><rect x="1289" y="639" width="1" height="4" fill="#c0c0c0"/><rect x="1297" y="639" width="1" height="5" fill="#c0c0c0"/><rect x="1305" y="639" width="1" height="7" fill="#c0c0c0"/><rect x="1313" y="639" width="1" height="7" fill="#c0c0c0"/><rect x="1321" y="639" width="1" height="8" fill="#c0c0c0"/><rect x="1329" y="639" width="1" height="11" fill="#c0c0c0"/><rect x="1337" y="639" width="1" height="12" fill="#c0c0c0"/><rect x="1345" y="639" width="1" height="17" fill="#c0c0c0"/><rect x="1353" y="639" width="1" height="19" fill="#c0c0c0"/><rect x="1361" y="639" width="1" height="20" fill="#c0c0c0"/><rect x="1369" y="639" width="1" height="19" fill="#c0c0c0"/><rect x="1377" y="639" width="1" height="20" fill="#c0c0c0"/><rect x="1385" y="639" width="1" height="20" fill="#c0c0c0"/><rect x="1393" y="639" width="1" height="20" fill="#c0c0c0"/><rect x="1401" y="639" width="1" height="20" fill="#c0c0c0"/><rect x="1409" y="639" width="1" height="22" fill="#c0c0c0"/><rect x="1417" y="639" width="1" height="24" fill="#c0c0c0"/><rect x="1425" y="639" width="1" height="30" fill="#c0c0c0"/><rect x="1433" y="639" width="1" height="31" fill="#c0c0c0"/><rect x="1441" y="639" width="1" height="30" fill="#c0c0c0"/><rect x="1449" y="639" width="1" height="29" fill="#c0c0c0"/><rect x="1457" y="639" width="1" height="28" fill="#c0c0c0"/></g>
<g clip-path="url(#cmacd)">
<polyline points="0,605.6 11.8,600.3 23.6,596.1 35.3,594.4 49.5,595.5 58.9,597.9 70.7,603.8 84.8,610 96.6,615.6 108.4,618.5 117.8,619.9 141.3,619.9 153.1,619.5 170.8,621.5 182.6,624.4 194.3,627.3 201.8,627.7 207.7,630.4 225.3,631.6 237.1,632.4 248.9,633.6 266.6,634.4 278.3,635.6 286.6,637.1 301.9,640.6 313.7,643.3 331.3,644.2 349,642.4 360.8,638.3 372.6,635.3 384.3,631.6 406,625.6 430,624.4 450,622 470,621.4 486,623 498,624 510,629 522,633 538,639.6 558,643 570,644 586,648.4 598,650.4 610,654.4 630,656 642,655.6 658,653 670,649 690,644 710,640 740,639.4 768,640 780,641.6 792,644.4 820,649 840,648.4 852,645.6 870,643.4 892,643.6 904,646.4 920,649.6 940,653 960,655.6 972,658.6 990,659.4 1006,660 1018,662 1030,664 1042,670 1056,678 1070,689 1086,700 1102,712 1118,721 1134,728 1150,730 1162,727 1178,720 1194,706 1210,689.6 1226,679 1242,665.6 1258,654 1274,645 1290,641.3 1301,640.4 1321,642.4 1335,644.6 1353,649.1 1368,652.4 1391,655.8 1413,659.2 1435.5,662 1450,664.8 1457,665.9" fill="none" stroke="#ff0000" stroke-width="1" shape-rendering="crispEdges" stroke-dasharray="3,2"/>
<line x1="1305" y1="648.5" x2="1449.0874401375545" y2="667.6804709274016" stroke="#ff0000" stroke-width="3.5" stroke-linecap="round"/><polygon points="1459,669 1447.3704431613808,673.0004259444869 1448.821925141239,662.0966100957968" fill="#ff0000"/>
</g>
<g clip-path="url(#crsi)"><line x1="0" y1="789.5" x2="1651" y2="789.5" stroke="#c0c0c0" stroke-width="1" stroke-dasharray="3,3"/><line x1="0" y1="840.5" x2="1651" y2="840.5" stroke="#c0c0c0" stroke-width="1" stroke-dasharray="3,3"/><line x1="0" y1="901.5" x2="1651" y2="901.5" stroke="#c0c0c0" stroke-width="1" stroke-dasharray="3,3"/><polyline points="-7,806 1,807.4 9,809 17,809.4 25,817 33,829 41,824.6 49,847 57,851 65,848.4 73,837.6 81,842 89,822.4 97,821.4 105,822.4 113,826.4 121,825.4 129,822 137,838.4 145,838.4 153,845.4 161,842 169,833.4 177,850 185,841 193,837.4 201,838.4 209,829 217,827.4 225,838.4 233,852.4 241,843.4 249,844.4 257,837.4 265,844.4 273,839.4 281,848.4 289,850 297,853.4 305,853 313,849.4 321,829 329,830.4 337,820.4 345,820.4 353,825 361,827 369,839 377,830 385,828.4 393,834 401,828.4 409,836 417,834 425,824.4 433,827.4 441,820.4 449,817 457,825 465,846 473,847.6 481,852 489,850 497,848.4 505,856 513,855 521,839.4 529,841 537,841 545,842.4 553,852 561,834 569,862 577,859.4 585,858.4 593,861 601,853 609,848 617,833 625,837.4 633,836.4 641,844 649,847.4 657,833 665,832 673,830.4 681,834 689,839 697,848 705,844.4 713,844 721,840 729,843.4 737,838 745,833.4 753,832 761,854 769,858 777,858 785,854.4 793,865 801,858 809,832.4 817,831.4 825,830.4 833,827.4 841,833 849,839 857,854 865,856 873,851 881,853 889,856 897,857 905,849.4 913,852 921,851 929,850 937,847.4 945,874 953,858 961,854.4 969,854.4 977,853 985,838.4 993,838.4 1001,841.4 1009,874 1017,875 1025,873 1033,878 1041,883 1049,887.4 1057,884 1065,876.4 1073,878 1081,884 1089,884 1097,894 1105,892 1113,893 1121,895 1129,878 1137,861 1145,849 1153,844.4 1161,846 1169,850 1177,856 1185,851.4 1193,846 1201,836.4 1209,836.4 1217,842.4 1225,828.4 1233,831.4 1241,830.3 1249,836.5 1257,833.3 1265,837.2 1273,837.2 1281,852 1289,854.2 1297,843.6 1305,849 1313,844.6 1321,849.8 1329,853.4 1337,854.9 1345,860 1353,852 1361,853.4 1369,839.4 1377,849.8 1385,849.5 1393,854.9 1401,853.4 1409,857.1 1417,858.6 1425,867.4 1433,859.3 1441,857.1 1449,859.3 1457,860.4" fill="none" stroke="#1e90ff" stroke-width="1" shape-rendering="crispEdges" /><line x1="1249" y1="846" x2="1462.0342349001937" y2="863.6732437024824" stroke="#ff0000" stroke-width="3.5" stroke-linecap="round"/><polygon points="1472,864.5 1460.6242802414545,868.5734506226338 1461.451036538972,858.6076855228275" fill="#ff0000"/></g>
<g shape-rendering="crispEdges" fill="#000"><rect x="0" y="26" width="1652" height="1"/><rect x="1651" y="26" width="1" height="902"/><rect x="0" y="579" width="1652" height="1"/><rect x="0" y="581" width="1652" height="1"/><rect x="0" y="751" width="1652" height="1"/><rect x="0" y="753" width="1652" height="1"/><rect x="0" y="927" width="1652" height="1"/></g>
<polygon points="1463,27 1472,27 1467.5,32" fill="#c0c0c0"/>
<g font-size="9.5" fill="#000"><rect x="1652" y="49" width="3" height="1" shape-rendering="crispEdges"/><text x="1657" y="52.4">1.42525</text><rect x="1652" y="82" width="3" height="1" shape-rendering="crispEdges"/><text x="1657" y="85.3">1.42225</text><rect x="1652" y="115" width="3" height="1" shape-rendering="crispEdges"/><text x="1657" y="118.3">1.41925</text><rect x="1652" y="148" width="3" height="1" shape-rendering="crispEdges"/><text x="1657" y="151.2">1.41630</text><rect x="1652" y="181" width="3" height="1" shape-rendering="crispEdges"/><text x="1657" y="184.2">1.41330</text><rect x="1652" y="214" width="3" height="1" shape-rendering="crispEdges"/><text x="1657" y="217.2">1.41030</text><rect x="1652" y="247" width="3" height="1" shape-rendering="crispEdges"/><text x="1657" y="250.1">1.40735</text><rect x="1652" y="280" width="3" height="1" shape-rendering="crispEdges"/><text x="1657" y="283.1">1.40435</text><rect x="1652" y="312" width="3" height="1" shape-rendering="crispEdges"/><text x="1657" y="316.0">1.40135</text><rect x="1652" y="345" width="3" height="1" shape-rendering="crispEdges"/><text x="1657" y="348.9">1.39840</text><rect x="1652" y="378" width="3" height="1" shape-rendering="crispEdges"/><text x="1657" y="381.9">1.39540</text><rect x="1652" y="411" width="3" height="1" shape-rendering="crispEdges"/><text x="1657" y="414.9">1.39240</text><rect x="1652" y="444" width="3" height="1" shape-rendering="crispEdges"/><text x="1657" y="447.8">1.38945</text><rect x="1652" y="477" width="3" height="1" shape-rendering="crispEdges"/><text x="1657" y="480.8">1.38650</text><rect x="1652" y="510" width="3" height="1" shape-rendering="crispEdges"/><text x="1657" y="513.7">1.38345</text><rect x="1652" y="543" width="3" height="1" shape-rendering="crispEdges"/><text x="1657" y="546.7">1.38050</text><rect x="1652" y="576" width="3" height="1" shape-rendering="crispEdges"/><text x="1657" y="579.6">1.37750</text></g>
<rect x="1653" y="446" width="41" height="11" fill="#ff0000" shape-rendering="crispEdges"/><text x="1656" y="455" font-size="9.5" fill="#fff">1.38876</text><rect x="1653" y="468" width="41" height="11" fill="#ff4500" shape-rendering="crispEdges"/><text x="1656" y="477" font-size="9.5" fill="#fff">1.38677</text><rect x="1653" y="485" width="41" height="11" fill="#32cd32" shape-rendering="crispEdges"/><text x="1656" y="494" font-size="9.5" fill="#fff">1.38524</text><rect x="1653" y="499" width="41" height="11" fill="#000000" shape-rendering="crispEdges"/><text x="1656" y="508" font-size="9.5" fill="#fff">1.38402</text><rect x="1653" y="518" width="41" height="11" fill="#0000ff" shape-rendering="crispEdges"/><text x="1656" y="527" font-size="9.5" fill="#fff">1.38226</text><rect x="1653" y="538" width="41" height="11" fill="#0000ff" shape-rendering="crispEdges"/><text x="1656" y="547" font-size="9.5" fill="#fff">1.38046</text>
<g font-size="9.5" fill="#000"><rect x="1652" y="583" width="2" height="1" shape-rendering="crispEdges"/><text x="1655" y="592">0.004032</text><rect x="1652" y="639" width="3" height="1" shape-rendering="crispEdges"/><text x="1655" y="643">0.00</text><rect x="1652" y="750" width="2" height="1" shape-rendering="crispEdges"/><text x="1655" y="748">-0.007917</text><rect x="1652" y="755" width="2" height="1" shape-rendering="crispEdges"/><text x="1655" y="764">100</text><text x="1654" y="793">80</text><text x="1654" y="844">50</text><text x="1654.5" y="905">15</text><text x="1655" y="924">0</text></g>
<text x="-1.5" y="594" font-size="9.8" fill="#000" textLength="152" lengthAdjust="spacingAndGlyphs">MACD(12,26,9) -0.002289 -0.001923</text>
<text x="-1" y="766" font-size="9.8" fill="#000" textLength="66" lengthAdjust="spacingAndGlyphs">RSI(14) 38.8745</text>
<g font-size="9.5" fill="#000"><text x="-7" y="940">18 May 2021</text><rect x="57" y="928" width="1" height="4" shape-rendering="crispEdges"/><text x="57" y="940">19 May 20:00</text><rect x="121" y="928" width="1" height="4" shape-rendering="crispEdges"/><text x="121" y="940">21 May 04:00</text><rect x="185" y="928" width="1" height="4" shape-rendering="crispEdges"/><text x="185" y="940">24 May 12:00</text><rect x="249" y="928" width="1" height="4" shape-rendering="crispEdges"/><text x="249" y="940">25 May 20:00</text><rect x="313" y="928" width="1" height="4" shape-rendering="crispEdges"/><text x="313" y="940">27 May 04:00</text><rect x="377" y="928" width="1" height="4" shape-rendering="crispEdges"/><text x="377" y="940">28 May 12:00</text><rect x="441" y="928" width="1" height="4" shape-rendering="crispEdges"/><text x="441" y="940">31 May 20:00</text><rect x="505" y="928" width="1" height="4" shape-rendering="crispEdges"/><text x="505" y="940">2 Jun 04:00</text><rect x="569" y="928" width="1" height="4" shape-rendering="crispEdges"/><text x="569" y="940">3 Jun 12:00</text><rect x="633" y="928" width="1" height="4" shape-rendering="crispEdges"/><text x="633" y="940">6 Jun 23:00</text><rect x="697" y="928" width="1" height="4" shape-rendering="crispEdges"/><text x="697" y="940">8 Jun 04:00</text><rect x="761" y="928" width="1" height="4" shape-rendering="crispEdges"/><text x="761" y="940">9 Jun 12:00</text><rect x="825" y="928" width="1" height="4" shape-rendering="crispEdges"/><text x="825" y="940">10 Jun 20:00</text><rect x="889" y="928" width="1" height="4" shape-rendering="crispEdges"/><text x="889" y="940">14 Jun 04:00</text><rect x="953" y="928" width="1" height="4" shape-rendering="crispEdges"/><text x="953" y="940">15 Jun 12:00</text><rect x="1017" y="928" width="1" height="4" shape-rendering="crispEdges"/><text x="1017" y="940">16 Jun 20:00</text><rect x="1081" y="928" width="1" height="4" shape-rendering="crispEdges"/><text x="1081" y="940">18 Jun 04:00</text><rect x="1145" y="928" width="1" height="4" shape-rendering="crispEdges"/><text x="1145" y="940">21 Jun 12:00</text><rect x="1209" y="928" width="1" height="4" shape-rendering="crispEdges"/><text x="1209" y="940">22 Jun 20:00</text><rect x="1273" y="928" width="1" height="4" shape-rendering="crispEdges"/><text x="1273" y="940">24 Jun 04:00</text><rect x="1337" y="928" width="1" height="4" shape-rendering="crispEdges"/><text x="1337" y="940">25 Jun 12:00</text><rect x="1401" y="928" width="1" height="4" shape-rendering="crispEdges"/><text x="1401" y="940">28 Jun 20:00</text></g>
<rect x="1697" y="24" width="1" height="917" fill="#d8d8d8" shape-rendering="crispEdges"/>
<polygon points="0,32 3,35 0,35" fill="#000"/>
<text x="8.5" y="38" font-size="10" fill="#000" textLength="203" lengthAdjust="spacingAndGlyphs" xml:space="preserve">GBPUSD-,H4  1.38431 1.38431 1.38399 1.38402</text>
<g><rect x="0" y="46" width="215" height="57" fill="#fff"/><rect x="0" y="46" width="48" height="24" fill="url(#gred)"/><rect x="0" y="69" width="44" height="1" fill="#f7a0a0" opacity="0.7"/><text x="8.5" y="62" font-size="12.5" fill="#fff" textLength="25" lengthAdjust="spacingAndGlyphs">SELL</text><rect x="163" y="46" width="52" height="24" fill="url(#gred)"/><rect x="167" y="69" width="44" height="1" fill="#f7a0a0" opacity="0.7"/><text x="176.3" y="62" font-size="12.5" fill="#fff" textLength="23.3" lengthAdjust="spacingAndGlyphs">BUY</text><rect x="48" y="46" width="115" height="24" fill="#fff"/><rect x="47" y="46" width="1" height="24" fill="#b80000"/><rect x="163" y="46" width="1" height="24" fill="#b80000"/><rect x="50.5" y="46.5" width="110.5" height="21" fill="#fff" stroke="#a4a8ae"/><rect x="51" y="47" width="20" height="8" fill="#f2f2f2"/><rect x="51" y="55" width="20" height="12" fill="#dcdcdc"/><rect x="71" y="47" width="1" height="20" fill="#a8acb2"/><rect x="140" y="47" width="20.5" height="8" fill="#f2f2f2"/><rect x="140" y="55" width="20.5" height="12" fill="#dcdcdc"/><rect x="139" y="47" width="1" height="20" fill="#a8acb2"/><polygon points="58.5,55 63.5,55 61,58" fill="#5a6ad0"/><polygon points="147.5,58 152.5,58 150,55" fill="#5a6ad0"/><text x="136" y="61" font-size="12" fill="#000" text-anchor="end">1.00</text><rect x="0" y="70" width="105" height="33" fill="url(#gred2)"/><rect x="0" y="70" width="105" height="1" fill="#b80000"/><rect x="107" y="70" width="108" height="33" fill="url(#gred2)"/><rect x="107" y="70" width="108" height="1" fill="#b80000"/><text x="16" y="97" font-size="12" font-weight="bold" fill="#fff">1.38</text><text x="42" y="98" font-size="33" fill="#fff">40</text><text x="83" y="82.3" font-size="11.5" font-weight="bold" fill="#fff">2</text><text x="126" y="97" font-size="12" font-weight="bold" fill="#fff">1.38</text><text x="153" y="98" font-size="33" fill="#fff">43</text><text x="193.5" y="82.3" font-size="11.5" font-weight="bold" fill="#fff">0</text></g>
<rect x="0" y="0" width="1698" height="22" fill="#f0f0f0"/><rect x="0" y="21" width="1698" height="1" fill="#d4d4d4"/><rect x="0" y="22" width="1698" height="2" fill="#6e6e6e"/><rect x="1183" y="0" width="515" height="21" fill="#f0f0f0"/><rect x="12" y="0" width="1" height="20" fill="#a8a8a8"/><rect x="13" y="0" width="1" height="20" fill="#ffffff"/><line x1="0" y1="13" x2="4" y2="18" stroke="#d0a020" stroke-width="2.5"/><rect x="0" y="5" width="1.5" height="8" fill="#80a8e0"/><path d="M22.5,2.5 h8 l3.5,3.5 v10 h-11.5 z" fill="#fff" stroke="#6a6a6a" stroke-width="1"/><rect x="24" y="5" width="3" height="1" fill="#888"/><rect x="24" y="8" width="6" height="1" fill="#999"/><rect x="24" y="10.5" width="6" height="1" fill="#999"/><path d="M30.5,7.5 h3.5 v3.5 h3.5 v3.5 h-3.5 v3.5 h-3.5 v-3.5 h-3.5 v-3.5 h3.5 z" fill="#22c022" stroke="#138a13" stroke-width="0.8"/><text x="41" y="13" font-size="12" fill="#000">新订单</text><path d="M89.5,11.5 L95.5,3.5 L104,10.5 L97.5,17.5 Z" fill="#c89020" stroke="#8a5a10" stroke-width="0.9"/><path d="M89.5,11 L95.5,3.5 L103,9.5 L97,15.5 Z" fill="#f0d060"/><path d="M91.5,10.5 L95.8,5 L101,9.3" fill="none" stroke="#fff8c0" stroke-width="1"/><rect x="119" y="2.5" width="11" height="9" fill="#3090e0" stroke="#1a60b0" stroke-width="0.8"/><rect x="122" y="5" width="6" height="2" fill="#dff0ff"/><path d="M118,17.5 q-2,-4 2,-5 q1,-3 5,-2 q3,-2 5,1 q4,0 3,6 z" fill="#eef2f8" stroke="#6f8fc0" stroke-width="1"/><circle cx="153" cy="10" r="7.5" fill="none" stroke="#b8d0c8" stroke-width="1.2"/><circle cx="153" cy="10" r="5" fill="none" stroke="#90b8d8" stroke-width="1.2"/><path d="M146,10 a7,7 0 0 1 3,-6" fill="none" stroke="#4080d0" stroke-width="1.2"/><circle cx="153" cy="10" r="1.8" fill="#2060c0"/><path d="M153,10 v7.5" stroke="#20a020" stroke-width="1.6"/><path d="M153,17.5 a7.5,7.5 0 0 0 7,-4" fill="none" stroke="#40b040" stroke-width="1.2"/><path d="M173,9 L187,9 L182,17 L178,17 Z" fill="#f0d840" stroke="#c0a020" stroke-width="0.8"/><ellipse cx="180" cy="7" rx="8" ry="2.6" fill="#60a8e0" stroke="#3a80c0" stroke-width="0.6"/><ellipse cx="180" cy="5" rx="4.5" ry="3" fill="#5aa0dc"/><circle cx="185" cy="14" r="4.2" fill="#e02a18"/><rect x="183.3" y="12.3" width="3.4" height="3.4" fill="#fff"/><text x="193" y="13" font-size="12" fill="#000">自动交易</text><rect x="248" y="0" width="1" height="20" fill="#a8a8a8"/><rect x="249" y="0" width="1" height="20" fill="#ffffff"/><rect x="252" y="2" width="3" height="1" fill="#a0a0a0"/><rect x="252" y="4" width="3" height="1" fill="#a0a0a0"/><rect x="252" y="6" width="3" height="1" fill="#a0a0a0"/><rect x="252" y="8" width="3" height="1" fill="#a0a0a0"/><rect x="252" y="10" width="3" height="1" fill="#a0a0a0"/><rect x="252" y="12" width="3" height="1" fill="#a0a0a0"/><rect x="252" y="14" width="3" height="1" fill="#a0a0a0"/><rect x="252" y="16" width="3" height="1" fill="#a0a0a0"/><rect x="252" y="18" width="3" height="1" fill="#a0a0a0"/><line x1="266.5" y1="4" x2="266.5" y2="18" stroke="#505050" stroke-width="1.3"/><polygon points="264.5,6.5 268.5,6.5 266.5,4" fill="#505050"/><line x1="264.0" y1="15.5" x2="278" y2="15.5" stroke="#505050" stroke-width="1.3"/><polygon points="275.5,13.5 275.5,17.5 278,15.5" fill="#505050"/><path d="M272.5,5 v9 M272.5,6.5 h2.5 M270,12.5 h2.5" stroke="#109010" stroke-width="1.2" fill="none"/><rect x="286" y="0" width="1" height="20" fill="#a8a8a8"/><rect x="287" y="0" width="1" height="20" fill="#ffffff"/><rect x="288" y="0" width="23" height="20" fill="#f7f7f7"/><line x1="294.5" y1="4" x2="294.5" y2="18" stroke="#505050" stroke-width="1.3"/><polygon points="292.5,6.5 296.5,6.5 294.5,4" fill="#505050"/><line x1="292.0" y1="15.5" x2="306" y2="15.5" stroke="#505050" stroke-width="1.3"/><polygon points="303.5,13.5 303.5,17.5 306,15.5" fill="#505050"/><path d="M300.5,2 v11.5" stroke="#108010" stroke-width="1"/><rect x="298.5" y="4.5" width="4.5" height="7" fill="#50e050" stroke="#108010" stroke-width="1"/><line x1="322.5" y1="4" x2="322.5" y2="18" stroke="#505050" stroke-width="1.3"/><polygon points="320.5,6.5 324.5,6.5 322.5,4" fill="#505050"/><line x1="320.0" y1="15.5" x2="334" y2="15.5" stroke="#505050" stroke-width="1.3"/><polygon points="331.5,13.5 331.5,17.5 334,15.5" fill="#505050"/><path d="M321,12.5 Q327,4 332.5,11" fill="none" stroke="#20a020" stroke-width="1.2"/><rect x="343" y="0" width="1" height="20" fill="#a8a8a8"/><rect x="344" y="0" width="1" height="20" fill="#ffffff"/><line x1="361.3" y1="11.3" x2="366.8" y2="16.8" stroke="#a08010" stroke-width="3.2" stroke-linecap="round"/><line x1="361.3" y1="11.3" x2="366.8" y2="16.8" stroke="#f0d050" stroke-width="1.6" stroke-linecap="round"/><circle cx="357.8" cy="7.8" r="5" fill="#d8f0fc" stroke="#3a80d0" stroke-width="1.4"/><rect x="354.8" y="7.0" width="6" height="1.6" fill="#3a6f9f"/><rect x="357.0" y="4.8" width="1.6" height="6" fill="#3a6f9f"/><line x1="389.6" y1="11.3" x2="395.1" y2="16.8" stroke="#a08010" stroke-width="3.2" stroke-linecap="round"/><line x1="389.6" y1="11.3" x2="395.1" y2="16.8" stroke="#f0d050" stroke-width="1.6" stroke-linecap="round"/><circle cx="386.1" cy="7.8" r="5" fill="#d8f0fc" stroke="#3a80d0" stroke-width="1.4"/><rect x="383.1" y="7.0" width="6" height="1.6" fill="#3a6f9f"/><rect x="408" y="2.5" width="7.7" height="7.5" fill="#30a030"/><rect x="409.3" y="5.5" width="5.2" height="3.2" fill="#f0f8f0"/><rect x="416.3" y="2.5" width="7.7" height="7.5" fill="#2060d0"/><rect x="417.6" y="5.5" width="5.2" height="3.2" fill="#f0f8f0"/><rect x="408" y="10.3" width="7.7" height="7.5" fill="#2060d0"/><rect x="409.3" y="13.3" width="5.2" height="3.2" fill="#f0f8f0"/><rect x="416.3" y="10.3" width="7.7" height="7.5" fill="#30a030"/><rect x="417.6" y="13.3" width="5.2" height="3.2" fill="#f0f8f0"/><rect x="433" y="0" width="1" height="20" fill="#a8a8a8"/><rect x="434" y="0" width="1" height="20" fill="#ffffff"/><rect x="438" y="0" width="1" height="20" fill="#a8a8a8"/><rect x="439" y="0" width="1" height="20" fill="#ffffff"/><rect x="440" y="0" width="23" height="20" fill="#f7f7f7"/><line x1="446.5" y1="4.5" x2="446.5" y2="18" stroke="#505050" stroke-width="1.3"/><polygon points="444.5,7.0 448.5,7.0 446.5,4.5" fill="#505050"/><line x1="444.0" y1="15.5" x2="458" y2="15.5" stroke="#505050" stroke-width="1.3"/><polygon points="455.5,13.5 455.5,17.5 458,15.5" fill="#505050"/><polygon points="451,6 455.5,9.5 451,13" fill="#20b020" stroke="#108010" stroke-width="0.5"/><rect x="466" y="0" width="1" height="20" fill="#a8a8a8"/><rect x="467" y="0" width="1" height="20" fill="#ffffff"/><rect x="468" y="0" width="23" height="20" fill="#f7f7f7"/><line x1="474.5" y1="4.5" x2="474.5" y2="18" stroke="#505050" stroke-width="1.3"/><polygon points="472.5,7.0 476.5,7.0 474.5,4.5" fill="#505050"/><line x1="472.0" y1="15.5" x2="486" y2="15.5" stroke="#505050" stroke-width="1.3"/><polygon points="483.5,13.5 483.5,17.5 486,15.5" fill="#505050"/><rect x="480.2" y="4" width="1.2" height="10" fill="#2060a0"/><path d="M486,9.5 h-4 M483.5,7.5 l-2,2 l2,2" stroke="#e04010" stroke-width="1.3" fill="none"/><rect x="495" y="0" width="1" height="20" fill="#a8a8a8"/><rect x="496" y="0" width="1" height="20" fill="#ffffff"/><path d="M505.5,3.0 h8 l3.5,3.5 v10 h-11.5 z" fill="#fff" stroke="#6a6a6a" stroke-width="1"/><rect x="507" y="5.5" width="3" height="1" fill="#888"/><rect x="507" y="8.5" width="6" height="1" fill="#999"/><rect x="507" y="11.0" width="6" height="1" fill="#999"/><path d="M513.5,8.0 h3.5 v3.5 h3.5 v3.5 h-3.5 v3.5 h-3.5 v-3.5 h-3.5 v-3.5 h3.5 z" fill="#22c022" stroke="#138a13" stroke-width="0.8"/><polygon points="526.7,9 532.2,9 529.45,12" fill="#000"/><circle cx="551" cy="10" r="7" fill="#fff" stroke="#1e6fd0" stroke-width="2"/><path d="M551,6 v4.2 h3" stroke="#000" stroke-width="1" fill="none"/><polygon points="565.9,9 571.4,9 568.65,12" fill="#000"/><rect x="582.5" y="3" width="15" height="13.5" fill="#fff" stroke="#2a6ad0" stroke-width="1"/><rect x="583" y="3.5" width="14" height="2" fill="#6aa0e8"/><rect x="583" y="10" width="14" height="0.8" fill="#2a6ad0"/><polyline points="584,8.5 586.5,8 588.5,7 591,7.5 593,6.5 596,6.5" fill="none" stroke="#a02010" stroke-width="1"/><polyline points="584.5,14.5 587,13.8 589,14 591.5,12.5 593.5,12 596,14.5" fill="none" stroke="#20a020" stroke-width="1"/><polygon points="604.7,9 610.2,9 607.45,12" fill="#000"/><rect x="616" y="0" width="1" height="21" fill="#a8a8a8"/><rect x="617" y="0" width="1" height="21" fill="#ffffff"/><rect x="620" y="2" width="3" height="1" fill="#a0a0a0"/><rect x="620" y="4" width="3" height="1" fill="#a0a0a0"/><rect x="620" y="6" width="3" height="1" fill="#a0a0a0"/><rect x="620" y="8" width="3" height="1" fill="#a0a0a0"/><rect x="620" y="10" width="3" height="1" fill="#a0a0a0"/><rect x="620" y="12" width="3" height="1" fill="#a0a0a0"/><rect x="620" y="14" width="3" height="1" fill="#a0a0a0"/><rect x="620" y="16" width="3" height="1" fill="#a0a0a0"/><rect x="620" y="18" width="3" height="1" fill="#a0a0a0"/><rect x="626" y="0" width="1" height="20" fill="#a8a8a8"/><rect x="627" y="0" width="1" height="20" fill="#ffffff"/><rect x="628" y="0" width="23" height="20" fill="#f7f7f7"/><path d="M634,2.5 L634,14.5 L637,11.5 L639.3,16.5 L641,15.7 L638.8,10.9 L642.5,10.5 Z" fill="#555"/><path d="M666.5,3 v14 M659,10.5 h15" stroke="#555" stroke-width="1.2"/><rect x="683" y="0" width="1" height="20" fill="#a8a8a8"/><rect x="684" y="0" width="1" height="20" fill="#ffffff"/><rect x="700" y="4" width="1.3" height="13" fill="#555"/><rect x="723" y="10" width="12" height="1.3" fill="#555"/><line x1="751" y1="17" x2="763" y2="5" stroke="#555" stroke-width="1.3"/><path d="M777,15 L790,3 M779,17 L792,5 M778,11 h10 M780,14 h9" stroke="#555" stroke-width="1.1" fill="none"/><text x="788" y="18.5" font-size="6" font-weight="bold" fill="#555">E</text><path d="M806,3.5 h13 M806,7 h13 M806,10.5 h13 M806,14 h10" stroke="#666" stroke-width="1" stroke-dasharray="1,1" fill="none"/><text x="815" y="18.5" font-size="6" font-weight="bold" fill="#555">F</text><text x="836" y="15.5" font-size="12" font-weight="bold" fill="#555">A</text><rect x="862.5" y="3.5" width="12" height="13" fill="none" stroke="#666" stroke-width="1" stroke-dasharray="1,1"/><text x="864.3" y="14.5" font-size="11.5" font-weight="bold" fill="#555">T</text><path d="M890,6 l3,-3 l3,3 z M898,14 l3,3 l3,-3 z" fill="#555"/><path d="M892,9 l2.5,3 l5,-6" stroke="#555" stroke-width="1.3" fill="none"/><polygon points="911,9 916.5,9 913.75,12" fill="#000"/><rect x="922" y="0" width="1" height="20" fill="#a8a8a8"/><rect x="923" y="0" width="1" height="20" fill="#ffffff"/><rect x="926" y="2" width="3" height="1" fill="#a0a0a0"/><rect x="926" y="4" width="3" height="1" fill="#a0a0a0"/><rect x="926" y="6" width="3" height="1" fill="#a0a0a0"/><rect x="926" y="8" width="3" height="1" fill="#a0a0a0"/><rect x="926" y="10" width="3" height="1" fill="#a0a0a0"/><rect x="926" y="12" width="3" height="1" fill="#a0a0a0"/><rect x="926" y="14" width="3" height="1" fill="#a0a0a0"/><rect x="926" y="16" width="3" height="1" fill="#a0a0a0"/><rect x="926" y="18" width="3" height="1" fill="#a0a0a0"/><rect x="1073" y="0" width="24" height="20" fill="#f7f7f7"/><rect x="1072" y="0" width="1" height="20" fill="#a8a8a8"/><g font-size="10" fill="#333"><text x="937.5" y="14">M1</text><text x="965.5" y="14">M5</text><text x="991" y="14">M15</text><text x="1019" y="14">M30</text><text x="1050.5" y="14">H1</text><text x="1077.5" y="14">H4</text><text x="1106.5" y="14">D1</text><text x="1133.5" y="14">W1</text><text x="1160" y="14">MN</text></g><rect x="1183" y="0" width="1" height="20" fill="#a8a8a8"/><rect x="1184" y="0" width="1" height="20" fill="#ffffff"/><line x1="1651" y1="10.5" x2="1646" y2="15.5" stroke="#2060d0" stroke-width="2.6"/><circle cx="1653.5" cy="7.7" r="3.8" fill="#f4f8ff" stroke="#2a70e0" stroke-width="1.4"/><path d="M1676,8 q-6,0 -6,5 q0,4 5,4.5 l-1.5,2 l4,-2 q6,0 6,-4.5 q0,-5 -7.5,-5 z" fill="#e6e8f0" stroke="#b8b8c0" stroke-width="0.8"/><circle cx="1684.7" cy="7.5" r="8" fill="#e2361e"/><text x="1681.2" y="12" font-size="11" font-weight="bold" fill="#fff">1</text>
</svg></body></html>
